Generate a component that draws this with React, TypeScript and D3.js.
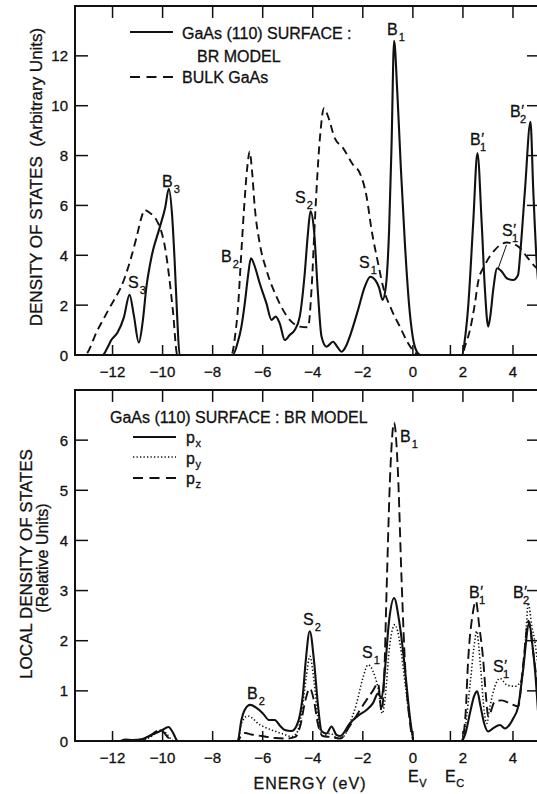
import React from 'react';
import * as d3 from 'd3';

type Pt = [number, number];

// ─── Data (energy eV, density) ────────────────────────────────────────────────
const surfaceDos: Pt[] = [
  [-13.5, 0], [-12.4, 0], [-12.2, 0.3], [-12.05, 0.6], [-11.8, 0.9], [-11.55, 1.5], [-11.32, 2.41],
  [-11.15, 1.6], [-10.95, 0.5], [-10.8, 1.3], [-10.65, 2.7], [-10.43, 4.0], [-10.12, 5.1], [-9.9, 5.9],
  [-9.75, 6.67], [-9.62, 5.6], [-9.52, 3.8], [-9.42, 1.6], [-9.32, 0], [-7.2, 0], [-7.0, 0.5],
  [-6.85, 1.14], [-6.7, 2.2], [-6.59, 3.14], [-6.47, 3.88], [-6.3, 3.5], [-6.12, 2.88], [-5.85, 2.07],
  [-5.65, 1.41], [-5.48, 1.54], [-5.32, 1.27], [-5.12, 0.6], [-4.92, 0.8], [-4.72, 1.0], [-4.52, 1.54],
  [-4.32, 3.28], [-4.2, 4.8], [-4.09, 5.76], [-3.95, 5.0], [-3.8, 2.6], [-3.65, 0.74], [-3.45, 0.33],
  [-3.19, 0.53], [-3.0, 0.3], [-2.85, 0.13], [-2.65, 0.4], [-2.52, 0.74], [-2.19, 1.81], [-1.92, 2.74],
  [-1.7, 3.14], [-1.5, 3.0], [-1.35, 2.7], [-1.21, 2.21], [-1.08, 2.74], [-0.95, 5.0], [-0.85, 8.5],
  [-0.75, 12.6], [-0.62, 10.5], [-0.48, 7.5], [-0.32, 4.5], [-0.15, 2.0], [0, 0.7], [0.15, 0.15],
  [0.3, 0], [1.95, 0], [2.1, 0.8], [2.21, 1.94], [2.41, 5.29], [2.58, 8.1], [2.75, 5.29], [2.88, 2.61],
  [3.01, 1.14], [3.1, 1.6], [3.21, 2.61], [3.37, 3.48], [3.55, 3.35], [3.75, 3.08], [4.01, 3.01],
  [4.2, 3.2], [4.3, 4.2], [4.48, 6.63], [4.7, 9.35], [4.81, 6.63], [4.95, 3.68], [5.0, 3.0],
];

const bulkDos: Pt[] = [
  [-13.5, 0], [-13.12, 0], [-12.6, 1.0], [-12.17, 1.8], [-11.52, 3.08], [-11.05, 4.68], [-10.85, 5.5],
  [-10.72, 5.82], [-10.52, 5.71], [-10.25, 5.42], [-10.05, 4.95], [-9.9, 4.3], [-9.79, 3.55],
  [-9.59, 1.8], [-9.41, 0], [-7.25, 0], [-7.1, 0.8], [-6.98, 2.0], [-6.89, 3.5], [-6.75, 5.8],
  [-6.62, 7.5], [-6.52, 8.16], [-6.42, 7.3], [-6.32, 5.96], [-6.12, 4.48], [-5.85, 3.41], [-5.45, 2.34],
  [-4.92, 1.41], [-4.52, 1.14], [-4.19, 1.11], [-4.05, 2.61], [-3.92, 5.29], [-3.72, 8.63], [-3.55, 9.9],
  [-3.39, 9.57], [-3.12, 8.7], [-2.79, 8.3], [-2.39, 7.63], [-2.12, 7.3], [-1.85, 6.36], [-1.65, 5.02],
  [-1.39, 3.68], [-1.19, 2.74], [-0.85, 1.81], [-0.52, 1.14], [-0.19, 0.47], [0.08, 0.1], [0.3, 0],
  [1.95, 0], [2.1, 0.4], [2.28, 1.0], [2.48, 2.07], [2.61, 2.94], [2.88, 3.61], [3.28, 4.22],
  [3.75, 4.51], [4.21, 4.35], [4.55, 3.95], [4.88, 3.55], [5.0, 3.45],
];

const ldosPx: Pt[] = [
  [-13.5, 0], [-11.7, 0], [-11.5, 0.03], [-11.2, 0.02], [-10.8, 0.04], [-10.45, 0.12], [-10.05, 0.21],
  [-9.76, 0.28], [-9.6, 0.18], [-9.39, 0], [-7.0, 0], [-6.85, 0.42], [-6.72, 0.62], [-6.5, 0.72],
  [-6.25, 0.66], [-5.99, 0.55], [-5.75, 0.42], [-5.52, 0.42], [-5.3, 0.3], [-5.12, 0.22], [-4.85, 0.2],
  [-4.65, 0.3], [-4.5, 0.55], [-4.4, 0.9], [-4.28, 1.6], [-4.12, 2.19], [-3.95, 1.6], [-3.8, 0.76],
  [-3.65, 0.2], [-3.45, 0.15], [-3.25, 0.29], [-3.05, 0.12], [-2.9, 0.1], [-2.52, 0.35], [-2.2, 0.5],
  [-1.85, 0.62], [-1.6, 0.75], [-1.39, 0.95], [-1.25, 0.85], [-1.12, 1.4], [-0.95, 2.4], [-0.75, 2.85],
  [-0.55, 2.4], [-0.35, 1.6], [-0.25, 1.1], [-0.1, 0.4], [0.05, 0], [1.95, 0], [2.1, 0.15], [2.3, 0.6],
  [2.45, 0.9], [2.57, 0.99], [2.7, 0.7], [2.85, 0.35], [3.01, 0.19], [3.2, 0.25], [3.48, 0.32],
  [3.68, 0.25], [4.01, 0.45], [4.21, 0.69], [4.4, 1.4], [4.65, 2.35], [4.78, 1.9], [4.88, 1.42], [5.0, 0.6],
];

const ldosPy: Pt[] = [
  [-13.5, 0], [-10.9, 0], [-10.5, 0.08], [-10.2, 0.18], [-10.0, 0.23], [-9.85, 0.15], [-9.55, 0],
  [-7.0, 0], [-6.85, 0.35], [-6.6, 0.5], [-6.4, 0.45], [-6.19, 0.35], [-5.9, 0.27], [-5.65, 0.22],
  [-5.25, 0.15], [-4.85, 0.09], [-4.65, 0.15], [-4.45, 0.55], [-4.25, 1.3], [-4.12, 1.69], [-3.95, 1.2],
  [-3.8, 0.5], [-3.6, 0.1], [-3.3, 0.15], [-3.0, 0.05], [-2.75, 0.1], [-2.52, 0.35], [-2.25, 0.75],
  [-2.0, 1.25], [-1.79, 1.52], [-1.6, 1.4], [-1.39, 1.05], [-1.22, 0.55], [-1.1, 0.9], [-0.95, 1.8],
  [-0.72, 2.32], [-0.5, 1.9], [-0.3, 1.1], [-0.1, 0.35], [0.05, 0], [1.95, 0], [2.1, 0.3], [2.3, 1.2],
  [2.45, 1.9], [2.55, 2.19], [2.7, 1.5], [2.85, 0.6], [2.95, 0.35], [3.08, 0.69], [3.28, 1.09],
  [3.48, 1.25], [3.75, 1.12], [4.08, 1.09], [4.35, 1.22], [4.5, 2.0], [4.61, 2.75], [4.75, 2.3],
  [4.88, 1.96], [5.0, 1.5],
];

const ldosPz: Pt[] = [
  [-13.5, 0], [-10.9, 0], [-10.5, 0.1], [-10.2, 0.2], [-10.0, 0.19], [-9.8, 0.08], [-9.6, 0],
  [-7.0, 0], [-6.85, 0.12], [-6.7, 0.16], [-6.45, 0.13], [-6.05, 0.1], [-5.5, 0.06], [-5.0, 0.05],
  [-4.7, 0.08], [-4.5, 0.3], [-4.3, 0.8], [-4.12, 1.05], [-3.95, 0.8], [-3.8, 0.35], [-3.6, 0.1],
  [-3.3, 0.08], [-2.9, 0.05], [-2.52, 0.3], [-2.2, 0.55], [-1.85, 0.82], [-1.6, 1.0], [-1.39, 1.15],
  [-1.25, 0.6], [-1.15, 1.2], [-1.05, 3.0], [-0.9, 5.4], [-0.75, 6.35], [-0.6, 5.4], [-0.45, 3.2],
  [-0.3, 1.4], [-0.15, 0.5], [0.05, 0], [1.95, 0], [2.1, 0.5], [2.21, 1.62], [2.38, 2.5], [2.52, 2.79],
  [2.65, 2.3], [2.81, 1.62], [2.92, 0.9], [3.01, 0.49], [3.28, 0.79], [3.55, 0.81], [3.88, 0.75],
  [4.21, 0.69], [4.4, 1.5], [4.62, 2.4], [4.8, 1.8], [5.0, 1.0],
];

const xTicks = [-12, -10, -8, -6, -4, -2, 0, 2, 4];
const xTickLabels = ['\u221212', '\u221210', '\u22128', '\u22126', '\u22124', '\u22122', '0', '2', '4'];
const topYTicks = [0, 2, 4, 6, 8, 10, 12];
const botYTicks = [0, 1, 2, 3, 4, 5, 6];
const gapEdge = 1.5; // E_c marker tick

const FONT = '"Liberation Sans", Arial, Helvetica, sans-serif';
const INK = '#111';

// ─── Scales ─────────────────────────────────────────────────────────────────
const x = d3.scaleLinear().domain([-13.5, 5]).range([75, 538]);
const yTop = d3.scaleLinear().domain([0, 14]).range([355, 6]);
const yBot = d3.scaleLinear().domain([0, 7]).range([741, 390]);

const lineFor = (y: d3.ScaleLinear<number, number>) =>
  d3.line<Pt>().x(d => x(d[0])).y(d => y(d[1])).curve(d3.curveMonotoneX);

// peak label: letter, optional prime stacked over a subscript, in one text element
const Lbl = ({ x0, y0, t, sub, prime = false }: { x0: number; y0: number; t: string; sub: string; prime?: boolean }) => (
  <text x={x0} y={y0} fontSize={16} fontFamily={FONT} fill={INK} stroke={INK} strokeWidth={0.3}>
    {t}
    {prime && <tspan fontSize={15} dx={0.5} dy={-2}>{'\u2032'}</tspan>}
    <tspan fontSize={11} dx={prime ? -4 : 1} dy={prime ? 7.5 : 5.5}>{sub}</tspan>
  </text>
);

const Frame = ({ y, yTicks, top, bottom }: { y: d3.ScaleLinear<number, number>; yTicks: number[]; top: number; bottom: number }) => {
  const left = x.range()[0];
  const right = x.range()[1];
  return (
    <g stroke={INK} fill="none">
      <rect x={left} y={top} width={right - left} height={bottom - top} strokeWidth={2} />
      {xTicks.map(t => (
        <g key={t}>
          <line x1={x(t)} x2={x(t)} y1={top} y2={top + 12} strokeWidth={1.5} />
          <line x1={x(t)} x2={x(t)} y1={bottom} y2={bottom - 10} strokeWidth={1.5} />
        </g>
      ))}
      <line x1={x(gapEdge)} x2={x(gapEdge)} y1={bottom} y2={bottom - 10} strokeWidth={1.5} />
      {yTicks.filter(t => t > 0).map(t => (
        <g key={t}>
          <line x1={left} x2={left + 13} y1={y(t)} y2={y(t)} strokeWidth={1.5} />
          <line x1={right} x2={right - 11} y1={y(t)} y2={y(t)} strokeWidth={1.5} />
        </g>
      ))}
    </g>
  );
};

const TickLabels = ({ y, yTicks, bottom }: { y: d3.ScaleLinear<number, number>; yTicks: number[]; bottom: number }) => (
  <g fontFamily={FONT} fontSize={15} fill={INK} stroke={INK} strokeWidth={0.3}>
    {xTicks.map((t, i) => (
      <text key={t} x={x(t)} y={bottom + 22} textAnchor="middle">{xTickLabels[i]}</text>
    ))}
    {yTicks.map(t => (
      <text key={t} x={68} y={y(t) + 5.5} textAnchor="end">{t}</text>
    ))}
  </g>
);

export default function App() {
  const lt = lineFor(yTop);
  const lb = lineFor(yBot);
  return (
    <svg width={537} height={794} style={{ position: 'absolute', left: 0, top: 0, background: '#fff' }}>
      {/* ─── Top panel ─── */}
      <Frame y={yTop} yTicks={topYTicks} top={6} bottom={355} />
      <TickLabels y={yTop} yTicks={topYTicks} bottom={355} />
      <path d={lt(bulkDos) || ''} fill="none" stroke={INK} strokeWidth={1.9} strokeDasharray="8,5" />
      <path d={lt(surfaceDos) || ''} fill="none" stroke={INK} strokeWidth={2.1} strokeLinejoin="round" />

      <g fontFamily={FONT} fill={INK} fontSize={16}>
        <line x1={130} x2={173} y1={32} y2={32} stroke={INK} strokeWidth={2} />
        <line x1={130} x2={173} y1={77} y2={77} stroke={INK} strokeWidth={2} strokeDasharray="10,6.5" />
        <g stroke={INK} strokeWidth={0.3}>
          <text x={182} y={39}>GaAs (110) SURFACE :</text>
          <text x={197} y={62}>BR MODEL</text>
          <text x={182} y={83}>BULK GaAs</text>
          <text transform="translate(42,177) rotate(-90)" textAnchor="middle" fontSize={17}>
            DENSITY OF STATES{'\u00a0 '}(Arbitrary Units)
          </text>
        </g>
      </g>

      <Lbl x0={162} y0={187} t="B" sub="3" />
      <Lbl x0={128} y0={288} t="S" sub="3" />
      <Lbl x0={221} y0={262} t="B" sub="2" />
      <Lbl x0={295} y0={203} t="S" sub="2" />
      <Lbl x0={359} y0={268} t="S" sub="1" />
      <Lbl x0={387} y0={35} t="B" sub="1" />
      <Lbl x0={470} y0={145} t="B" sub="1" prime />
      <Lbl x0={510} y0={117} t="B" sub="2" prime />
      <Lbl x0={502} y0={236} t="S" sub="1" prime />
      <line x1={506.5} y1={245} x2={498} y2={269} stroke={INK} strokeWidth={1} />

      {/* ─── Bottom panel ─── */}
      <Frame y={yBot} yTicks={botYTicks} top={390} bottom={741} />
      <TickLabels y={yBot} yTicks={botYTicks} bottom={741} />
      <path d={lb(ldosPz) || ''} fill="none" stroke={INK} strokeWidth={1.9} strokeDasharray="10,5" />
      <path d={lb(ldosPy) || ''} fill="none" stroke={INK} strokeWidth={1.6} strokeDasharray="1.3,2.2" />
      <path d={lb(ldosPx) || ''} fill="none" stroke={INK} strokeWidth={2.1} strokeLinejoin="round" />

      <g fontFamily={FONT} fill={INK} fontSize={16}>
        <line x1={133} x2={176} y1={437} y2={437} stroke={INK} strokeWidth={2} />
        <line x1={133} x2={176} y1={457} y2={457} stroke={INK} strokeWidth={1.6} strokeDasharray="1.3,2.2" />
        <line x1={133} x2={176} y1={478} y2={478} stroke={INK} strokeWidth={2} strokeDasharray="10,6.5" />
        <g stroke={INK} strokeWidth={0.3}>
          <text x={110} y={423}>GaAs (110) SURFACE : BR MODEL</text>
          {['x', 'y', 'z'].map((s, i) => (
            <text key={s} x={186} y={443 + i * 20.5}>p<tspan fontSize={11} dy={4} dx={0.5}>{s}</tspan></text>
          ))}
          <text transform="translate(32,564) rotate(-90)" textAnchor="middle" fontSize={17}>LOCAL DENSITY OF STATES</text>
          <text transform="translate(48,558) rotate(-90)" textAnchor="middle" fontSize={16}>(Relative Units)</text>
          <text x={310} y={789} textAnchor="middle" letterSpacing={1}>ENERGY (eV)</text>
          <text x={408} y={782}>E<tspan fontSize={11} dy={5} dx={0.5}>V</tspan></text>
          <text x={445} y={782}>E<tspan fontSize={11} dy={5} dx={0.5}>C</tspan></text>
        </g>
      </g>

      <Lbl x0={247} y0={699} t="B" sub="2" />
      <Lbl x0={303} y0={625} t="S" sub="2" />
      <Lbl x0={362} y0={658} t="S" sub="1" />
      <Lbl x0={400} y0={442} t="B" sub="1" />
      <Lbl x0={469} y0={598} t="B" sub="1" prime />
      <Lbl x0={513} y0={598} t="B" sub="2" prime />
      <Lbl x0={493} y0={672} t="S" sub="1" prime />
    </svg>
  );
}
